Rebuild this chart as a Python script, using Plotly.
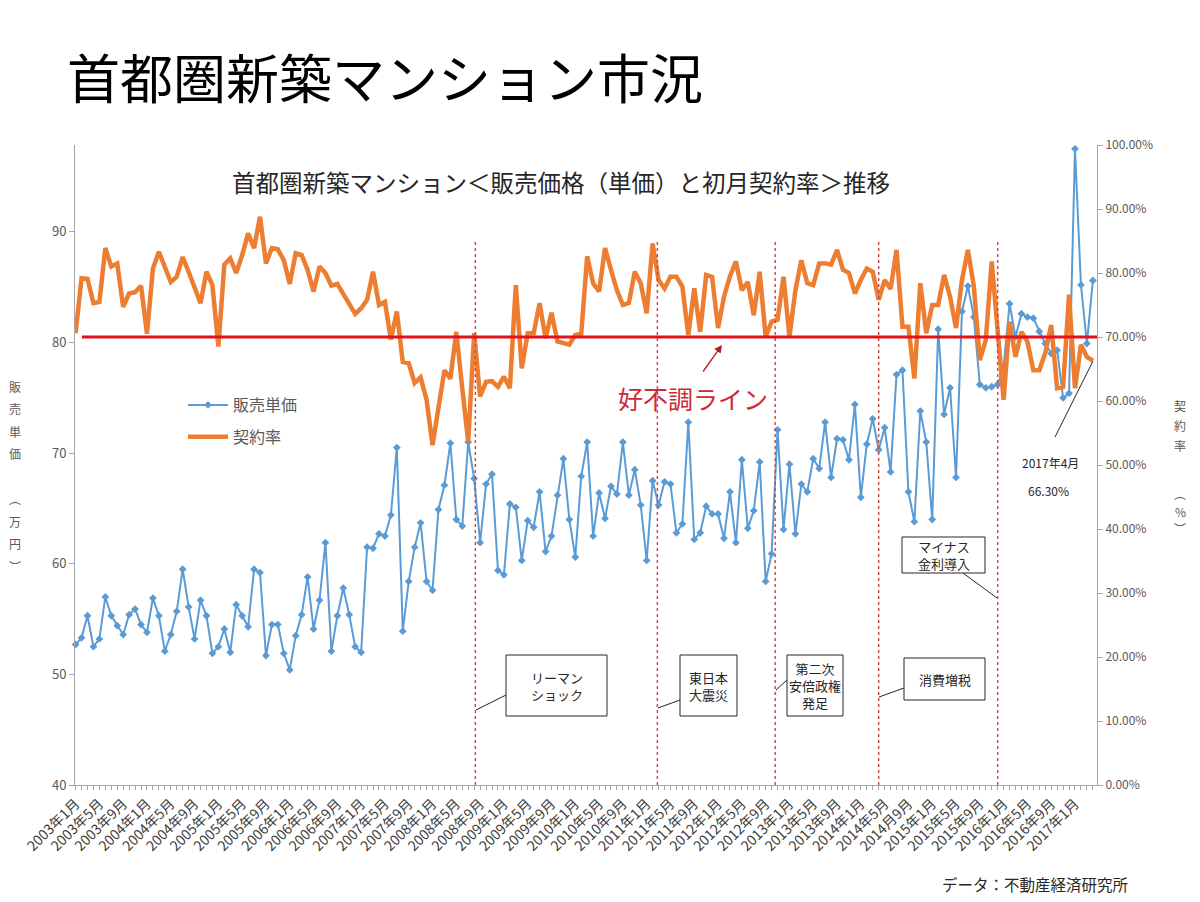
import plotly.graph_objects as go

# ---------------- data ----------------
months = [f"{y}年{m}月" for y in range(2003, 2018) for m in range(1, 13)][:172]

tick_labels = [
    "2003年1月", "2003年5月", "2003年9月", "2004年1月", "2004年5月", "2004年9月",
    "2005年1月", "2005年5月", "2005年9月", "2006年1月", "2006年5月", "2006年9月",
    "2007年1月", "2007年5月", "2007年9月", "2008年1月", "2008年5月", "2008年9月",
    "2009年1月", "2009年5月", "2009年9月", "2010年1月", "2010年5月", "2010年9月",
    "2011年1月", "2011年5月", "2011年9月", "2012年1月", "2012年5月", "2012年9月",
    "2013年1月", "2013年5月", "2013年9月", "2014年1月", "2014年5月", "2014月9月",
    "2015年1月", "2015年5月", "2015年9月", "2016年1月", "2016年5月", "2016年9月",
    "2017年1月",
]

# 販売単価 (万円)
price = [
    52.7, 53.3, 55.3, 52.5, 53.2, 57.0, 55.3, 54.4, 53.6, 55.4, 55.9, 54.5,   # 2003
    53.8, 56.9, 55.3, 52.1, 53.6, 55.7, 59.5, 56.1, 53.2, 56.7, 55.3, 51.9,   # 2004
    52.5, 54.1, 52.0, 56.3, 55.3, 54.3, 59.5, 59.2, 51.7, 54.5, 54.5, 51.9,   # 2005
    50.4, 53.5, 55.4, 58.8, 54.1, 56.7, 61.9, 52.1, 55.3, 57.8, 55.4, 52.5,   # 2006
    52.0, 61.5, 61.4, 62.7, 62.5, 64.4, 70.5, 53.9, 58.4, 61.5, 63.7, 58.4,   # 2007
    57.6, 64.9, 67.1, 70.9, 64.0, 63.4, 71.0, 67.7, 61.9, 67.2, 68.1, 59.4,   # 2008
    59.0, 65.4, 65.1, 60.3, 63.9, 63.3, 66.5, 61.1, 62.5, 66.2, 69.5, 64.0,   # 2009
    60.6, 67.9, 71.0, 62.5, 66.4, 64.1, 67.0, 66.3, 71.0, 66.2, 68.5, 65.3,   # 2010
    60.3, 67.5, 65.3, 67.4, 67.2, 62.8, 63.6, 72.8, 62.2, 62.8, 65.2, 64.5,   # 2011
    64.5, 62.3, 66.5, 61.9, 69.4, 63.2, 64.8, 69.2, 58.4, 60.9, 72.1, 63.1,   # 2012
    69.0, 62.7, 67.2, 66.5, 69.5, 68.6, 72.8, 67.8, 71.3, 71.2, 69.4, 74.4,   # 2013
    66.0, 70.8, 73.1, 70.3, 72.3, 68.3, 77.1, 77.5, 66.5, 63.8, 73.8, 71.0,   # 2014
    64.0, 81.2, 73.5, 75.9, 67.8, 82.8, 85.1, 82.3, 76.2, 75.9, 76.0, 76.2,   # 2015
    77.8, 83.5, 80.5, 82.6, 82.3, 82.2, 81.0, 79.9, 79.0, 79.3, 75.0, 75.4,   # 2016
    97.5, 85.2, 79.9, 85.6,                                                   # 2017
]

# 契約率 (%)
rate = [
    70.6, 79.2, 79.1, 75.3, 75.5, 83.9, 81.0, 81.5, 74.7, 76.8, 77.0, 78.0,   # 2003
    70.5, 80.7, 83.3, 80.9, 78.6, 79.4, 82.5, 80.2, 77.6, 75.3, 80.2, 78.1,   # 2004
    68.5, 81.3, 82.3, 80.0, 82.8, 86.2, 83.9, 88.8, 81.5, 83.9, 83.7, 82.0,   # 2005
    78.3, 83.1, 82.8, 80.5, 77.1, 81.0, 80.0, 78.0, 78.3, 76.8, 75.0, 73.6,   # 2006
    74.5, 75.8, 80.2, 75.0, 75.5, 69.6, 74.0, 66.1, 65.9, 62.8, 63.7, 60.2,   # 2007
    53.1, 59.1, 64.8, 63.5, 70.8, 62.0, 53.6, 70.6, 60.7, 63.0, 63.1, 62.2,   # 2008
    63.8, 62.0, 78.1, 65.1, 70.6, 70.6, 75.3, 69.8, 73.8, 69.3, 69.1, 68.8,   # 2009
    70.3, 70.5, 82.6, 78.4, 77.1, 83.9, 80.5, 77.3, 75.0, 75.3, 80.2, 78.4,   # 2010
    73.7, 84.6, 78.9, 77.6, 79.4, 79.4, 77.9, 70.3, 77.6, 70.8, 79.7, 79.4,   # 2011
    71.4, 76.3, 79.5, 81.8, 77.3, 78.6, 73.4, 80.2, 70.0, 72.4, 72.7, 79.4,   # 2012
    70.0, 77.3, 82.0, 78.4, 78.1, 81.5, 81.5, 81.3, 83.6, 80.5, 80.0, 76.8,   # 2013
    78.9, 80.7, 80.2, 75.8, 78.9, 77.5, 83.6, 71.6, 71.6, 63.5, 78.4, 70.6,   # 2014
    75.0, 75.0, 79.7, 76.3, 71.4, 78.9, 83.6, 77.9, 66.4, 69.5, 81.8, 70.0,   # 2015
    60.2, 72.4, 66.9, 70.8, 69.3, 64.8, 64.8, 67.5, 71.9, 62.0, 62.2, 76.6,   # 2016
    62.0, 68.8, 66.9, 66.3,                                                   # 2017
]

threshold = 70  # 好不調ライン (%)

event_labels = ["リーマン<br>ショック", "東日本<br>大震災", "第二次<br>安倍政権<br>発足",
                "消費増税", "マイナス<br>金利導入"]
event_x = [67.2, 97.8, 117.6, 135.0, 155.0]

# ---------------- layout helpers (pixel -> paper) ----------------
L, R, T, B = 75, 1097, 145, 785
def xp(px):
    return (px - L) / (R - L)
def yp(py):
    return (B - py) / (B - T)

FONT = "Noto Sans CJK JP, Noto Sans, sans-serif"
GRAY = "#595959"
AXIS = "#a6a6a6"
DARK = "#262626"

fig = go.Figure()

fig.add_trace(go.Scatter(
    x=months, y=price, name="販売単価", mode="lines+markers",
    line=dict(color="#5b9bd5", width=2),
    marker=dict(symbol="diamond", size=6, color="#5b9bd5"),
    legendgroup="a", cliponaxis=False,
))
fig.add_trace(go.Scatter(
    x=months, y=rate, name="契約率", mode="lines", yaxis="y2",
    line=dict(color="#ed7d31", width=4.5),
    legendgroup="b", cliponaxis=False,
))

ticktext = [tick_labels[i // 4] if i % 4 == 0 else "" for i in range(len(months))]

fig.update_layout(
    width=1200, height=902,
    margin=dict(l=L, r=1200 - R, t=T, b=902 - B, pad=0),
    paper_bgcolor="white", plot_bgcolor="white",
    font=dict(family=FONT, color=GRAY, size=12),
    showlegend=True,
    legend=dict(x=xp(183), y=yp(388), xanchor="left", yanchor="top",
                font=dict(size=16, color=GRAY), bgcolor="rgba(0,0,0,0)",
                tracegroupgap=8, itemwidth=40),
    xaxis=dict(
        type="category", categoryorder="array", categoryarray=months,
        range=[-0.1, 171.7], tickmode="array", tickvals=months, ticktext=ticktext,
        tickangle=-45, ticks="outside", ticklen=4, tickcolor=AXIS,
        showline=True, linecolor=AXIS, linewidth=1, showgrid=False, zeroline=False,
        tickfont=dict(size=14, color="#404040", family=FONT),
    ),
    yaxis=dict(
        range=[40, 97.85], tickmode="array", tickvals=[40, 50, 60, 70, 80, 90],
        ticks="outside", ticklen=5, tickcolor=AXIS, showline=True, linecolor=AXIS,
        showgrid=False, zeroline=False, tickfont=dict(size=13, color=GRAY),
    ),
    yaxis2=dict(
        range=[0, 100], overlaying="y", side="right", tickmode="array",
        tickvals=list(range(0, 101, 10)),
        ticktext=[f"{v:.2f}%" for v in range(0, 101, 10)],
        ticks="outside", ticklen=5, tickcolor=AXIS, showline=True, linecolor=AXIS,
        showgrid=False, zeroline=False, tickfont=dict(size=12, color=GRAY),
    ),
)

shapes = []
for ex in event_x:
    shapes.append(dict(type="line", xref="x", yref="paper", x0=ex, x1=ex,
                       y0=0, y1=yp(240), line=dict(color="#c0504d", width=1.5, dash="dot"),
                       layer="above"))
shapes.append(dict(type="line", xref="paper", yref="y2", x0=xp(82), x1=1.0,
                   y0=threshold, y1=threshold, line=dict(color="#e3111b", width=3),
                   layer="above"))

boxes = [
    (506, 655, 607, 716, (506, 695), (476, 710)),
    (680, 655, 737, 716, (680, 700), (658, 708)),
    (787, 655, 843, 716, (787, 680), (776, 690)),
    (904, 658, 985, 700, (904, 688), (879, 697)),
    (902, 537, 985, 573, (963, 573), (997, 598)),
]
annotations = []

def note(px, py, text, size, color=DARK, xanchor="center", **kw):
    annotations.append(dict(xref="paper", yref="paper", x=xp(px), y=yp(py), text=text,
                            showarrow=False, xanchor=xanchor, yanchor="middle",
                            font=dict(size=size, color=color), **kw))

for (x0, y0, x1, y1, c0, c1), lab in zip(boxes, event_labels):
    shapes.append(dict(type="rect", xref="paper", yref="paper",
                       x0=xp(x0), x1=xp(x1), y0=yp(y1), y1=yp(y0),
                       line=dict(color=DARK, width=1), fillcolor="white", layer="above"))
    shapes.append(dict(type="line", xref="paper", yref="paper",
                       x0=xp(c0[0]), y0=yp(c0[1]), x1=xp(c1[0]), y1=yp(c1[1]),
                       line=dict(color=DARK, width=1), layer="above"))
    note((x0 + x1) / 2, (y0 + y1) / 2, lab, 13, align="center")

# 2017年4月 leader
shapes.append(dict(type="line", xref="paper", yref="paper",
                   x0=xp(1055), y0=yp(437), x1=xp(1093), y1=yp(361),
                   line=dict(color=DARK, width=1), layer="above"))
note(1050, 462, "2017年4月", 12)
note(1048, 490, "66.30%", 12)

# 好不調ライン label + arrow
note(693, 398, "好不調ライン", 25, color="#cc2a36")
annotations.append(dict(xref="paper", yref="paper", x=xp(722), y=yp(345), ax=-20, ay=28,
                        text="", showarrow=True, arrowhead=2, arrowsize=1.2,
                        arrowwidth=1.3, arrowcolor="#b0202a"))

# titles
note(65, 76, "首都圏新築マンション市況", 53, color="#000000", xanchor="left")
note(561, 182, "首都圏新築マンション＜販売価格（単価）と初月契約率＞推移", 23.5)
note(1130, 884, "データ：不動産経済研究所", 15.5, xanchor="right")

# vertical axis titles (stacked characters)
left_chars = ["販", "売", "単", "価", "", "︵", "万", "円", "︶"]
for k, ch in enumerate(left_chars):
    if ch:
        note(15, 386 + 22.5 * k, ch, 12, color=GRAY)
right_chars = ["契", "約", "率", "", "︵", "%", "︶"]
right_y = [405, 425, 445, 0, 493, 511, 528]
for ch, yy in zip(right_chars, right_y):
    if ch:
        note(1180, yy, ch, 12, color=GRAY)

fig.update_layout(shapes=shapes, annotations=annotations)
fig.write_html("out.html")
